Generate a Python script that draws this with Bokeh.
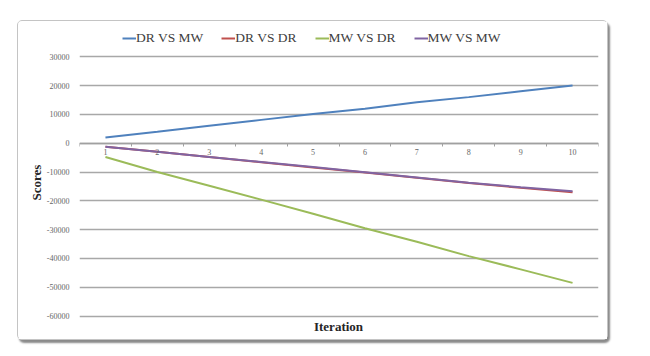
from bokeh.plotting import figure
from bokeh.models import Range1d, FixedTicker, Legend, LegendItem, Label, NumeralTickFormatter
from bokeh.embed import file_html
from bokeh.resources import INLINE

iterations = [1, 2, 3, 4, 5, 6, 7, 8, 9, 10]
dr_vs_mw = [2000, 4000, 6100, 8100, 10100, 12000, 14200, 16000, 18000, 20000]
dr_vs_dr = [-1200, -3000, -4800, -6600, -8400, -10200, -12000, -13800, -15500, -17000]
mw_vs_dr = [-4800, -10000, -14800, -19600, -24500, -29500, -34200, -39200, -43800, -48500]
mw_vs_mw = [-1200, -3000, -4800, -6500, -8300, -10100, -11900, -13700, -15300, -16700]
y_ticks = [30000, 20000, 10000, 0, -10000, -20000, -30000, -40000, -50000, -60000]

series = [
    ("DR VS MW", dr_vs_mw, "#4F81BD"),
    ("DR VS DR", dr_vs_dr, "#C0504D"),
    ("MW VS DR", mw_vs_dr, "#9BBB59"),
    ("MW VS MW", mw_vs_mw, "#8064A2"),
]

SERIF = "Liberation Serif"

# the frame also holds the legend strip (top) and the axis title strip (bottom)
p = figure(width=591, height=320, output_backend="svg", toolbar_location=None,
           x_range=Range1d(0.5, 10.5), y_range=Range1d(-66770, 39480),
           min_border_left=61, min_border_right=11, min_border_top=8, min_border_bottom=6)
p.margin = (20, 42, 16, 17)
p.styles = {"border": "1px solid #c4c4c4", "border-radius": "5px",
            "box-shadow": "2px 3px 2px #8a8a8a", "background": "white"}
p.outline_line_color = None
p.background_fill_color = "white"
p.border_fill_color = "white"

# grid
p.xgrid.visible = False
p.ygrid.ticker = FixedTicker(ticks=y_ticks)
p.ygrid.grid_line_color = "#a8a8a8"
p.ygrid.grid_line_width = 1.3

# y axis
p.yaxis.ticker = FixedTicker(ticks=y_ticks)
p.yaxis.formatter = NumeralTickFormatter(format="0")
p.yaxis.axis_line_color = None
p.yaxis.major_tick_line_color = None
p.yaxis.minor_tick_line_color = None
p.yaxis.major_label_text_font = SERIF
p.yaxis.major_label_text_font_size = "8px"
p.yaxis.major_label_text_color = "#666666"
p.yaxis.major_label_standoff = 4
p.yaxis.axis_label = "Scores"
p.yaxis.axis_label_text_font = SERIF
p.yaxis.axis_label_text_font_style = "bold"
p.yaxis.axis_label_text_font_size = "13px"
p.yaxis.axis_label_text_color = "#262626"
p.yaxis.axis_label_standoff = 0

# category axis crossing at y = 0
p.xaxis.fixed_location = 0
p.xaxis.ticker = FixedTicker(ticks=iterations, minor_ticks=[i + 0.5 for i in range(0, 11)])
p.xaxis.axis_line_color = "#a0a0a0"
p.xaxis.axis_line_width = 1.3
p.xaxis.major_tick_line_color = None
p.xaxis.minor_tick_line_color = "#a0a0a0"
p.xaxis.minor_tick_in = 0
p.xaxis.minor_tick_out = 3
p.xaxis.major_label_text_font = SERIF
p.xaxis.major_label_text_font_size = "8px"
p.xaxis.major_label_text_color = "#666666"
p.xaxis.major_label_standoff = 0

items = []
for name, vals, color in series:
    r = p.line(iterations, vals, line_color=color, line_width=2)
    items.append(LegendItem(label=name, renderers=[r]))

legend = Legend(items=items, orientation="horizontal", location=(43, 289),
                label_text_font=SERIF, label_text_font_size="13.5px",
                label_text_color="#404040", glyph_width=14, glyph_height=14,
                label_standoff=0, spacing=18, padding=0, margin=0,
                label_height=14, border_line_color=None, background_fill_alpha=0)
p.add_layout(legend)

p.add_layout(Label(x=259, y=9, x_units="screen", y_units="screen", text="Iteration",
                   text_font=SERIF, text_font_style="bold", text_font_size="13px",
                   text_color="#262626", text_align="center", text_baseline="middle"))

open("out.html", "w").write(file_html(p, INLINE))
